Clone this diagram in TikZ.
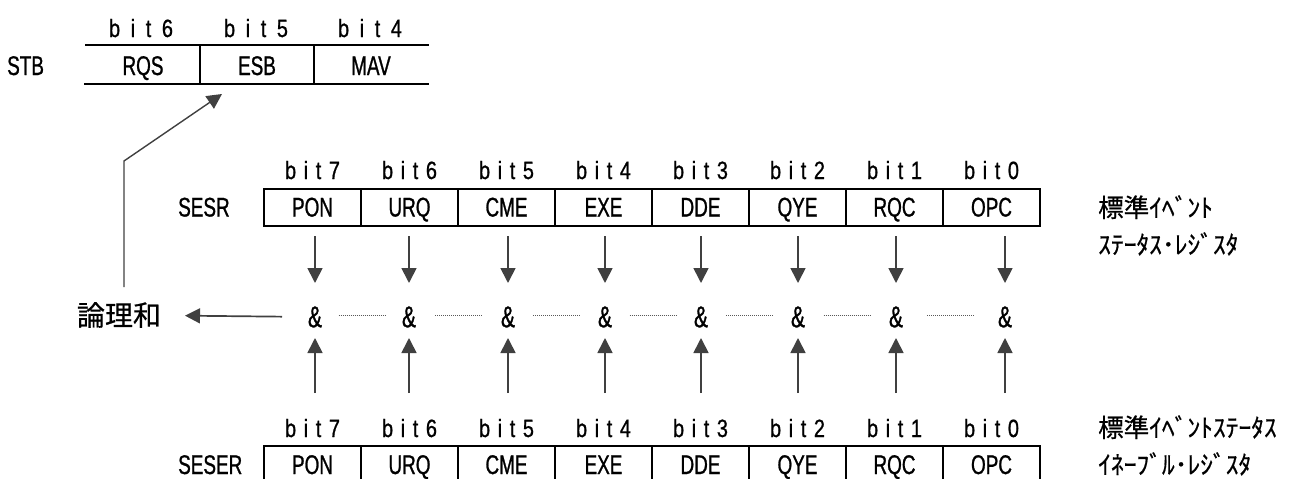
\documentclass[tikz,border=0pt]{standalone}
\usepackage{fontspec}
\setmainfont[FakeStretch=0.7,FakeBold=0.9]{Liberation Sans}
\newfontfamily\bitfont[FakeStretch=0.8,FakeBold=0.8]{Liberation Sans}
\newfontfamily\jpfont[FakeBold=0.6]{Noto Sans CJK JP}
\usetikzlibrary{arrows.meta,calc}
\definecolor{arrgray}{gray}{0.25}
\definecolor{dotgray}{gray}{0.35}
\newcommand{\bitl}[2]{\makebox[#1][s]{b\hfill i\hfill t\hfill #2}}
\begin{document}
\begin{tikzpicture}[x=1pt,y=-1pt,
  cell/.style={inner sep=0pt, anchor=base, font=\fontsize{27}{27}\selectfont},
  reg/.style={inner sep=0pt, anchor=base west, font=\fontsize{27}{27}\selectfont},
  bitlbl/.style={inner sep=0pt, anchor=base, font=\bitfont\fontsize{25}{25}\selectfont},
  amp/.style={inner sep=0pt, font=\fontsize{30}{30}\selectfont},
  jp/.style={inner sep=0pt, anchor=base west, font=\jpfont\fontsize{25.5}{25.5}\selectfont},
  box/.style={line width=1.9pt, line cap=rect},
  arr/.style={line width=1.7pt, draw=arrgray, -{Triangle[length=15pt,width=15pt]}},
  dotl/.style={line width=1pt, draw=dotgray, dash pattern=on 1pt off 1pt},
]
\useasboundingbox (0,0) rectangle (1299,479);

% ---------- STB ----------
\draw[box] (86,45) -- (428,45);
\draw[box] (85,84) -- (428,84);
\draw[box] (200,45) -- (200,84);
\draw[box] (314,45) -- (314,84);
\node[reg] (stb) at (7,75) {STB};
\node[bitlbl] (stbb6) at (141,37) {\bitl{64pt}{6}};
\node[bitlbl] (stbb5) at (256,37) {\bitl{64pt}{5}};
\node[bitlbl] (stbb4) at (370,37) {\bitl{64pt}{4}};
\node[cell] (rqs) at (143,75) {RQS};
\node[cell] (esb) at (257,75) {ESB};
\node[cell] (mav) at (371,75) {MAV};
\coordinate (esbtip) at (222,94);

% ---------- SESR ----------
\draw[box] (264,189) rectangle (1040,226);
\foreach \k in {1,...,7} \draw[box] (264+97*\k,189) -- (264+97*\k,226);
\node[reg] (sesr) at (178,216.5) {SESR};
\foreach \nm [count=\k from 0] in {PON,URQ,CME,EXE,DDE,QYE,RQC,OPC} {
  \pgfmathtruncatemacro{\b}{7-\k}
  \node[cell] (r\k) at (264+97*\k+48.5,216.5) {\nm};
  \node[bitlbl] (rb\k) at (264+97*\k+48.5,179) {\bitl{55pt}{\b}};
}
\node[jp] (sesrlbl1) at (1098,217) {標準ｲﾍﾞﾝﾄ};
\node[jp] (sesrlbl2) at (1098,254) {ｽﾃｰﾀｽ･ﾚｼﾞｽﾀ};

% ---------- SESER ----------
\draw[box] (264,490) -- (264,446) -- (1040,446) -- (1040,490);
\foreach \k in {1,...,7} \draw[box] (264+97*\k,446) -- (264+97*\k,490);
\node[reg] (seser) at (178,474) {SESER};
\foreach \nm [count=\k from 0] in {PON,URQ,CME,EXE,DDE,QYE,RQC,OPC} {
  \pgfmathtruncatemacro{\b}{7-\k}
  \node[cell] (e\k) at (264+97*\k+48.5,474) {\nm};
  \node[bitlbl] (eb\k) at (264+97*\k+48.5,437) {\bitl{55pt}{\b}};
}
\node[jp] (seserlbl1) at (1098,437) {標準ｲﾍﾞﾝﾄｽﾃｰﾀｽ};
\node[jp] (seserlbl2) at (1098,474) {ｲﾈｰﾌﾞﾙ･ﾚｼﾞｽﾀ};

% ---------- AND row ----------
\foreach \x [count=\k from 0] in {315,409,508,605,701,798,896,1005} {
  \node[amp] (a\k) at (\x,317) {\&};
  \coordinate (d\k) at (\x,236);
  \coordinate (u\k) at (\x,393);
  \draw[arr, shorten >=34pt] (d\k) -- (a\k.center);
  \draw[arr, shorten >=21pt] (u\k) -- (a\k.center);
}
\foreach \i [evaluate=\i as \j using int(\i+1)] in {0,...,6}
  \draw[dotl] ($(a\i.center)!0.5!(a\j.center)+(-23.5,-2)$) -- ++(47,0);

\node[inner sep=0pt, font=\jpfont\fontsize{28}{28}\selectfont] (lor) at (119,315) {論理和};
\draw[arr, shorten <=33pt, shorten >=66pt] (a0.center) -- (lor.center);
\coordinate (orup) at (124,287);
\draw[arr, line width=1.4pt] (orup) -- (124,161) -- (esbtip);
\end{tikzpicture}
\end{document}
